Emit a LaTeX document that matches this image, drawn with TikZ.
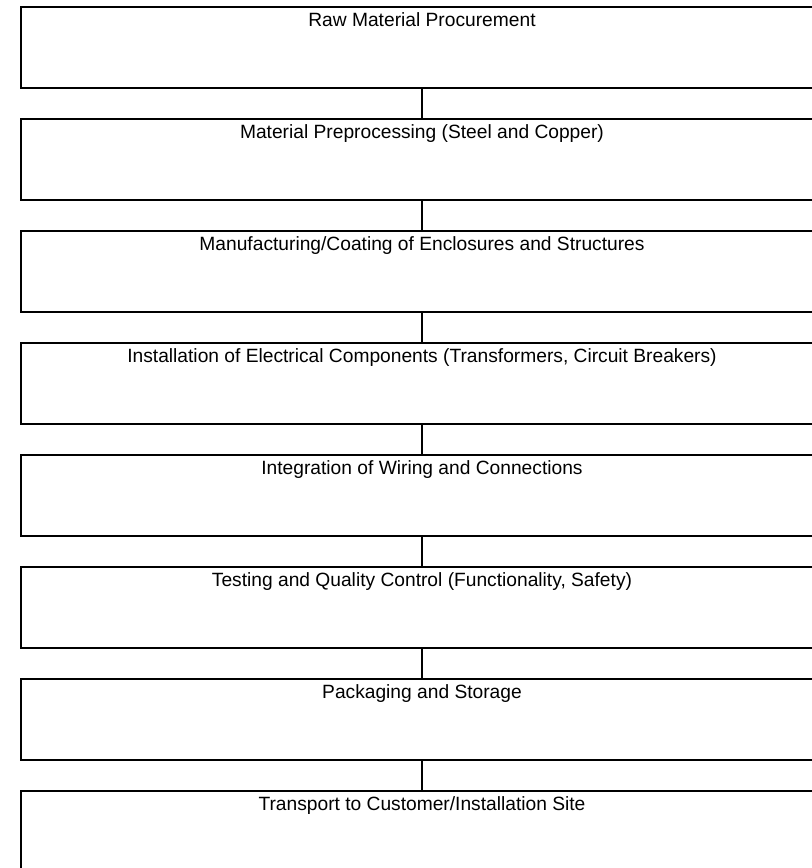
\documentclass[tikz,border=0pt]{standalone}
\usepackage{fontspec}
\setmainfont{Liberation Sans}
\usepackage{tikz}

\begin{document}
\begin{tikzpicture}[x=0.5pt, y=-0.5pt,
		stagebox/.style={rectangle, draw=black, line width=1pt, minimum width=401pt, minimum height=40.5pt, inner sep=0pt},
		stagetext/.style={anchor=base, inner sep=0pt, font=\fontsize{9.6}{11.5}\selectfont},
		link/.style={draw=black, line width=1pt}]
		\clip (0,0) rectangle (812,868);
		
		\node[stagebox]	(raw) at (422,47.5)	{};
		\node[stagebox]	(prep) at (422,159.5)	{};
		\node[stagebox]	(manuf) at (422,271.5)	{};
		\node[stagebox]	(install) at (422,383.5)	{};
		\node[stagebox]	(wiring) at (422,495.5)	{};
		\node[stagebox]	(testing) at (422,607.5)	{};
		\node[stagebox]	(pack) at (422,719.5)	{};
		\node[stagebox]	(transport) at (422,831.5)	{};
		
		\node[stagetext]	(rawtxt) at ([yshift=-10.4pt]raw.north)	{Raw Material Procurement};
		\node[stagetext]	(preptxt) at ([yshift=-10.4pt]prep.north)	{Material Preprocessing (Steel and Copper)};
		\node[stagetext]	(manuftxt) at ([yshift=-10.4pt]manuf.north)	{Manufacturing/Coating of Enclosures and Structures};
		\node[stagetext]	(installtxt) at ([yshift=-10.4pt]install.north)	{Installation of Electrical Components (Transformers, Circuit Breakers)};
		\node[stagetext]	(wiringtxt) at ([yshift=-10.4pt]wiring.north)	{Integration of Wiring and Connections};
		\node[stagetext]	(testingtxt) at ([yshift=-10.4pt]testing.north)	{Testing and Quality Control (Functionality, Safety)};
		\node[stagetext]	(packtxt) at ([yshift=-10.4pt]pack.north)	{Packaging and Storage};
		\node[stagetext]	(transporttxt) at ([yshift=-10.4pt]transport.north)	{Transport to Customer/Installation Site};
		
		\draw[link] (raw.south) -- (prep.north);
		\draw[link] (prep.south) -- (manuf.north);
		\draw[link] (manuf.south) -- (install.north);
		\draw[link] (install.south) -- (wiring.north);
		\draw[link] (wiring.south) -- (testing.north);
		\draw[link] (testing.south) -- (pack.north);
		\draw[link] (pack.south) -- (transport.north);
		
		\end{tikzpicture}
\end{document}
